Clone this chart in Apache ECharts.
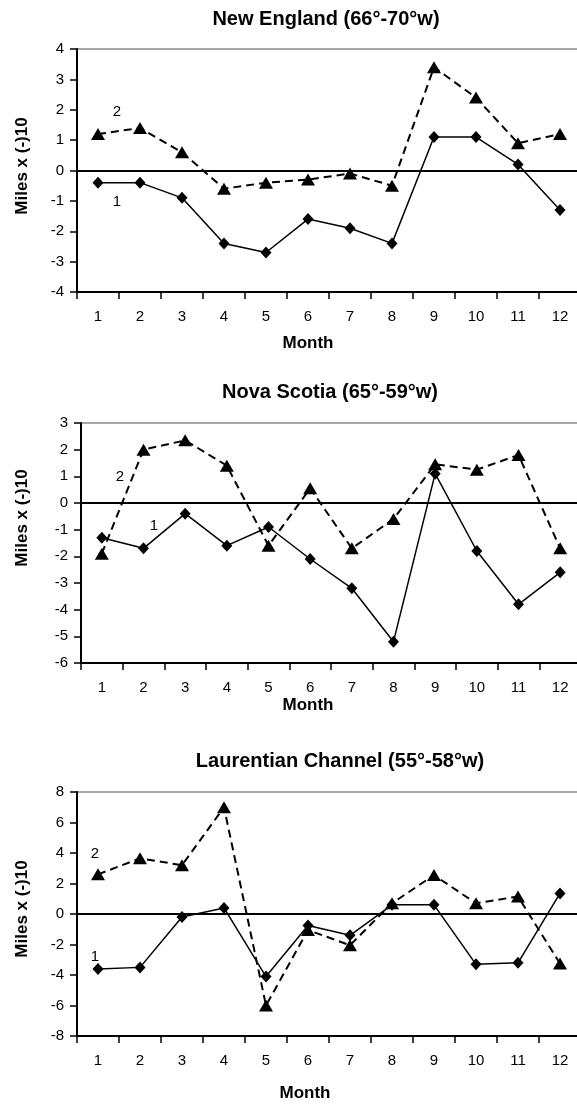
<!DOCTYPE html>
<html>
<head>
<meta charset="utf-8">
<script src="https://cdn.jsdelivr.net/npm/echarts@6/dist/echarts.min.js"></script>
<style>
html,body{margin:0;padding:0;background:#fff;}
#c{width:577px;height:1105px;}
</style>
</head>
<body>
<div id="c"></div>
<script>
// ---- data ----
const months = ['1','2','3','4','5','6','7','8','9','10','11','12'];
const panelTitles = ['New England (66°-70°w)', 'Nova Scotia (65°-59°w)', 'Laurentian Channel (55°-58°w)'];
const yTitle = 'Miles x (-)10';
const xTitle = 'Month';

const newEngland1 = [-0.4, -0.4, -0.9, -2.4, -2.7, -1.6, -1.9, -2.4, 1.1, 1.1, 0.2, -1.3];
const newEngland2 = [1.2, 1.4, 0.6, -0.6, -0.4, -0.3, -0.1, -0.5, 3.4, 2.4, 0.9, 1.2];

const novaScotia1 = [-1.3, -1.7, -0.4, -1.6, -0.9, -2.1, -3.2, -5.2, 1.1, -1.8, -3.8, -2.6];
const novaScotia2 = [-1.9, 2.0, 2.35, 1.4, -1.6, 0.55, -1.7, -0.6, 1.45, 1.25, 1.8, -1.7];

const laurentian1 = [-3.6, -3.5, -0.2, 0.4, -4.1, -0.75, -1.4, 0.6, 0.6, -3.3, -3.2, 1.35];
const laurentian2 = [2.6, 3.65, 3.2, 7.0, -6.0, -1.05, -2.05, 0.7, 2.55, 0.7, 1.15, -3.25];

const yRanges = [[-4, 4, 1], [-6, 3, 1], [-8, 8, 2]];
const seriesLabels = ['1', '2'];

// ---- layout ----
const FONT = '"Liberation Sans", Arial, sans-serif';
const grids = [
  {left: 77, top: 49, width: 504, height: 243},
  {left: 81, top: 423, width: 500, height: 240},
  {left: 77, top: 792, width: 504, height: 244}
];
const titleY = [19, 392, 761];
const titleX = [326, 330, 340];
const yTitleY = [166, 518, 909];
const monthPos = [[308, 343], [308, 705], [305, 1093]];
const annot = [
  [[117, 112], [117, 202]],
  [[120, 477], [154, 526]],
  [[95, 854], [95, 957]]
];
const data1 = [newEngland1, novaScotia1, laurentian1];
const data2 = [newEngland2, novaScotia2, laurentian2];

const option = {
  backgroundColor: '#fff',
  animation: false,
  textStyle: {fontFamily: FONT},
  grid: grids.map(g => Object.assign({show: true, borderColor: '#888', borderWidth: 1.5, backgroundColor: 'transparent', outerBoundsMode: 'none', containLabel: false}, g)),
  xAxis: grids.map((g, i) => ({
    type: 'category', gridIndex: i, data: months, boundaryGap: true,
    axisLine: {onZero: false, lineStyle: {color: '#000', width: 2}},
    axisTick: {show: true, length: 7, lineStyle: {color: '#000', width: 1.5}},
    axisLabel: {color: '#000', fontSize: 15, fontFamily: FONT, margin: 17},
    splitLine: {show: false}
  })),
  yAxis: yRanges.map((r, i) => ({
    type: 'value', gridIndex: i, min: r[0], max: r[1], interval: r[2],
    axisLine: {show: true, onZero: false, lineStyle: {color: '#000', width: 2}},
    axisTick: {show: true, length: 7, lineStyle: {color: '#000', width: 1.5}},
    axisLabel: {color: '#000', fontSize: 15, fontFamily: FONT, margin: 13},
    splitLine: {show: false}
  })),
  series: [],
  graphic: []
};

for (let i = 0; i < 3; i++) {
  option.series.push({
    name: seriesLabels[0], type: 'line', xAxisIndex: i, yAxisIndex: i,
    data: data1[i], symbol: 'diamond', symbolSize: [11, 12],
    lineStyle: {color: '#000', width: 1.5, type: 'solid'},
    itemStyle: {color: '#000'},
    z: 3,
    markLine: {
      silent: true, symbol: 'none', label: {show: false},
      lineStyle: {color: '#000', width: 2, type: 'solid'},
      data: [{yAxis: 0}]
    }
  });
  option.series.push({
    name: seriesLabels[1], type: 'line', xAxisIndex: i, yAxisIndex: i,
    data: data2[i], symbol: 'triangle', symbolSize: [14, 12],
    lineStyle: {color: '#000', width: 2, type: [8, 5]},
    itemStyle: {color: '#000'},
    z: 4
  });
  option.graphic.push({
    type: 'text', x: titleX[i], y: titleY[i],
    style: {text: panelTitles[i], font: 'bold 20px ' + FONT, fill: '#000', textAlign: 'center', textVerticalAlign: 'middle'}
  });
  option.graphic.push({
    type: 'text', x: 22, y: yTitleY[i], rotation: Math.PI / 2,
    style: {text: yTitle, font: 'bold 17px ' + FONT, fill: '#000', textAlign: 'center', textVerticalAlign: 'middle'}
  });
  option.graphic.push({
    type: 'text', x: monthPos[i][0], y: monthPos[i][1],
    style: {text: xTitle, font: 'bold 17px ' + FONT, fill: '#000', textAlign: 'center', textVerticalAlign: 'middle'}
  });
  option.graphic.push({
    type: 'text', x: annot[i][0][0], y: annot[i][0][1],
    style: {text: seriesLabels[1], font: '15px ' + FONT, fill: '#000', textAlign: 'center', textVerticalAlign: 'middle'}
  });
  option.graphic.push({
    type: 'text', x: annot[i][1][0], y: annot[i][1][1],
    style: {text: seriesLabels[0], font: '15px ' + FONT, fill: '#000', textAlign: 'center', textVerticalAlign: 'middle'}
  });
}

const chart = echarts.init(document.getElementById('c'), null, {renderer: 'canvas'});
chart.setOption(option);
</script>
</body>
</html>
